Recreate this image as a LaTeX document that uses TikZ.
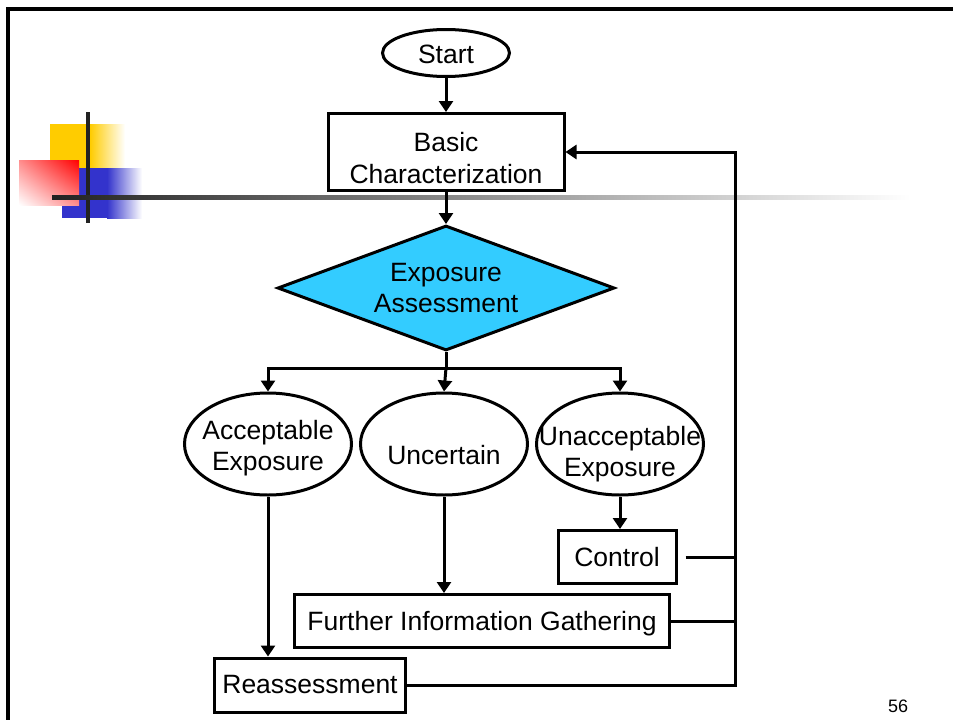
\documentclass[tikz,border=0pt]{standalone}
\usepackage{fontspec}
\setmainfont{Liberation Sans}
\usetikzlibrary{shapes.geometric,arrows.meta,positioning,calc,shadings}
\definecolor{decisionBlue}{RGB}{51,204,255}
\definecolor{slideYellow}{RGB}{255,204,0}
\definecolor{slideBlue}{RGB}{51,51,204}
\definecolor{slideBar}{RGB}{34,34,34}
\tikzset{
    flowLine/.style={
        ,   line width=3pt
        ,   draw=black
    },
    flowArrow/.style={
        ,   flowLine
        ,   -{Triangle[width=14pt,length=11pt]}
    },
    terminal/.style={ % ellipse, size set by hand, text in a label
        ,   ellipse
        ,   draw
        ,   line width=3pt
        ,   inner sep=0pt
    },
    termText/.style={
        ,   align=center
        ,   yshift=#1
    },
    stepBox/.style={
        ,   rectangle
        ,   draw
        ,   line width=3pt
        ,   inner sep=0pt
        ,   align=center
    },
    decision/.style={
        ,   diamond
        ,   aspect=2.6
        ,   draw
        ,   line width=3pt
        ,   fill=decisionBlue
        ,   inner sep=0pt
        ,   align=center
    }
}

\begin{document}
\begin{tikzpicture}[x=1pt, y=-1pt, font={\fontsize{26.5}{31.5}\selectfont}]
	\useasboundingbox (0,0) rectangle (953,720);
	% slide decoration
	\fill[slideYellow] (50,124) rectangle (90,168);
	\shade[left color=slideYellow, right color=white] (90,124) rectangle (125,168);
	\fill[slideBlue] (62,168) rectangle (107,218);
	\shade[left color=slideBlue, right color=white] (107,168) rectangle (142,218);
	\shade[upper right=red, lower left=white, upper left=red!45!white, lower right=red!45!white] (19,160) rectangle (79,205);
	\fill[slideBar] (86,112) rectangle (90,223);
	\shade[left color=slideBar, right color=white] (52,195) rectangle (910,199);
	\draw[line width=3.5pt] (953,9) -- (8,9) -- (8,720);
	
	% flow chart
	\node[terminal, minimum width=127, minimum height=47, label={[name=startText, termText=-1pt]center:Start}] (start) at (446,53) {};
	\node[stepBox, minimum width=236, minimum height=77, label={[name=basicText, termText=-6pt]center:Basic\\Characterization}] (basic) at (446,152) {};
	\node[decision, minimum width=337, minimum height=125] (expo) at (446,288) {Exposure\\Assessment};
	
	\node[terminal, minimum width=167, minimum height=102, label={[name=acceptText, termText=-4pt]center:Acceptable\\Exposure}] (accept) at (268,444) {};
	\node[terminal, minimum width=167, minimum height=102, label={[name=uncertText, termText=-11pt]center:Uncertain}] (uncert) at (444,444) {};
	\node[terminal, minimum width=167, minimum height=102, label={[name=unacceptText, termText=-10pt]center:Unacceptable\\Exposure}] (unaccept) at (620,444) {};
	
	\node[stepBox, minimum width=118, minimum height=53] (control) at (617,557) {Control};
	\node[stepBox, minimum width=375, minimum height=53, label={[name=furtherText, termText=-3pt]center:Further Information Gathering}] (further) at (482,621) {};
	\node[stepBox, minimum width=191, minimum height=54] (reassess) at (310,685) {Reassessment};
	
	\coordinate (split) at (446,368);
	\coordinate (loopTop) at (735,152);
	
	\draw[flowArrow] (start) -- (basic);
	\draw[flowArrow] (basic) -- (expo);
	\draw[flowLine] (expo.south) -- (split);
	\draw[flowArrow] (split) -| (accept.north);
	\draw[flowArrow] (split) -- (uncert.north);
	\draw[flowArrow] (split) -| (unaccept.north);
	
	\draw[flowArrow] (accept.south) -- (accept.south |- reassess.north);
	\draw[flowArrow] (uncert.south) -- (uncert.south |- further.north);
	\draw[flowArrow] (unaccept.south) -- (unaccept.south |- control.north);
	
	% feedback loop
	\draw[flowArrow] (reassess.east) -| (loopTop) -- (basic.east);
	\draw[flowLine] ($(control.east)+(8,0)$) -- (control.east -| loopTop);
	\draw[flowLine] (further.east) -- (further.east -| loopTop);
	
	\node[font={\fontsize{18}{20}\selectfont}] (pageNum) at (898,706) {56};
\end{tikzpicture}
\end{document}
